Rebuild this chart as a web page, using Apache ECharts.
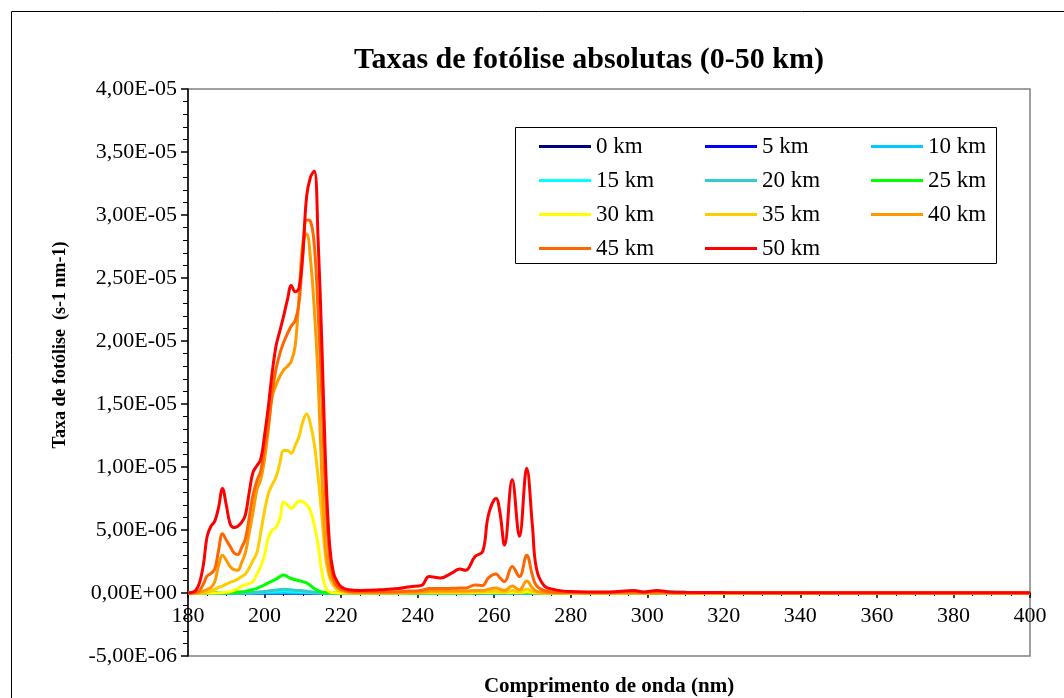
<!DOCTYPE html>
<html>
<head>
<meta charset="utf-8">
<script src="https://cdn.jsdelivr.net/npm/echarts@6/dist/echarts.min.js"></script>
<style>
html,body{margin:0;padding:0;background:#fff;}
#chart{width:1064px;height:698px;}
</style>
</head>
<body>
<div id="chart"></div>
<script>
// Wavelength grid (nm)
const wavelengths = [
  180,181,182,183,184,185,186,187,188,189,
  190,191,192,193,194,195,196,197,198,199,
  200,201,202,203,204,205,206,207,208,209,
  210,211,212,213,214,215,216,217,218,219,
  220,
  222,225,230,235,238,241,243,246,249,251,
  252.5,255,257,258.5,260.5,261.5,262.7,264.7,266.6,268.5,
  270,271,273,276,280,290,296.5,299,302.5,306,310,320,340,360,380,400
];
// Photolysis rates in units of 1E-06 s-1 nm-1
const km0 = [
  0,0,0,0,0,0,0,0,0,0,
  0,0,0,0,0,0,0,0,0,0,
  0,0,0,0,0,0,0,0,0,0,
  0,0,0,0,0,0,0,0,0,0,
  0,
  0,0,0,0,0,0,0,0,0,0,
  0,0,0,0,0,0,0,0,0,0,
  0,0,0,0,0,0,0,0,0,0,0,0,0,0,0,0
];
const km5 = [
  0,0,0,0,0,0,0,0,0,0,
  0,0,0,0,0,0,0,0,0,0,
  0,0,0,0,0,0,0,0,0,0,
  0,0,0,0,0,0,0,0,0,0,
  0,
  0,0,0,0,0,0,0,0,0,0,
  0,0,0,0,0,0,0,0,0,0,
  0,0,0,0,0,0,0,0,0.01,0.01,0,0,0,0,0,0
];
const km10 = [
  0,0,0,0,0,0,0,0,0,0,
  0,0,0,0,0,0,0,0,0,0,
  0.01,0.01,0.02,0.02,0.02,0.03,0.03,0.02,0.02,0.02,
  0.01,0.01,0.01,0,0,0,0,0,0,0,
  0,
  0,0,0,0,0,0,0,0,0,0,
  0,0,0,0,0,0,0,0,0,0,
  0,0,0,0,0,0.01,0.04,0.05,0.09,0.08,0.05,0.02,0.01,0,0,0
];
const km15 = [
  0,0,0,0,0,0,0,0,0,0,
  0,0,0,0,0,0,0,0.01,0.03,0.05,
  0.07,0.1,0.12,0.14,0.16,0.17,0.16,0.14,0.12,0.1,
  0.08,0.06,0.04,0.02,0.01,0,0,0,0,0,
  0,
  0,0,0,0,0,0,0,0,0,0,
  0,0,0,0,0,0,0,0,0,0,
  0,0,0,0,0,0.01,0.04,0.05,0.08,0.07,0.04,0.01,0,0,0,0
];
const km20 = [
  0,0,0,0,0,0,0,0,0,0,
  0,0,0,0,0,0,0.02,0.04,0.06,0.09,
  0.12,0.16,0.2,0.24,0.27,0.3,0.28,0.25,0.22,0.2,
  0.18,0.14,0.1,0.06,0.03,0.01,0,0,0,0,
  0,
  0,0,0,0,0,0,0,0,0,0,
  0,0,0,0,0,0,0,0,0,0,
  0,0,0,0,0,0.01,0.03,0.03,0.05,0.04,0.02,0.01,0,0,0,0
];
const km25 = [
  0,0,0,0,0,0,0,0,0,0,
  0,0.02,0.05,0.07,0.1,0.13,0.2,0.28,0.37,0.5,
  0.65,0.8,0.95,1.1,1.3,1.43,1.3,1.15,1.05,0.98,
  0.9,0.8,0.6,0.35,0.18,0.07,0.02,0,0,0,
  0,
  0,0,0,0,0,0,0,0,0,0,
  0,0.01,0.01,0.02,0.03,0.02,0.01,0.03,0.01,0.04,
  0.02,0,0,0,0,0,0.02,0.01,0.02,0.01,0,0,0,0,0,0
];
const km30 = [
  0,0,0,0,0,0,0,0,0.02,0.03,
  0.05,0.1,0.2,0.35,0.55,0.65,0.75,0.9,1.5,2.1,
  3.0,4.4,5.0,5.2,5.9,7.2,7.0,6.7,7.0,7.3,
  7.25,7.0,6.5,5.4,3.8,1.6,0.4,0.08,0.03,0.01,
  0,
  0,0,0,0,0.01,0.01,0.02,0.02,0.02,0.02,
  0.02,0.03,0.03,0.04,0.06,0.04,0.03,0.06,0.03,0.1,
  0.04,0.01,0,0,0,0,0.01,0,0.01,0,0,0,0,0,0,0
];
const km35 = [
  0,0,0,0,0.02,0.05,0.15,0.3,0.45,0.55,
  0.7,0.85,0.95,1.1,1.3,1.5,2.0,2.6,3.2,4.8,
  6.5,7.9,8.6,9.2,10.3,11.3,11.3,11.1,11.7,12.4,
  13.6,14.2,13.4,11.8,9.2,6.0,2.7,1.2,0.6,0.25,
  0.12,
  0.04,0.02,0.02,0.02,0.02,0.03,0.05,0.05,0.05,0.06,
  0.06,0.08,0.08,0.12,0.16,0.1,0.06,0.2,0.08,0.3,
  0.12,0.04,0.01,0,0,0,0.01,0,0.01,0,0,0,0,0,0,0
];
const km40 = [
  0,0,0,0.05,0.15,0.28,0.45,0.9,2.2,3.0,
  2.6,2.1,1.85,1.8,2.4,3.2,4.8,6.4,8.2,9.0,
  10.6,13.0,15.6,16.5,17.2,17.7,18.0,18.4,19.6,23.5,
  27.8,28.5,26.5,22.5,17.0,9.0,3.4,1.5,0.9,0.45,
  0.25,
  0.08,0.05,0.05,0.05,0.06,0.08,0.15,0.15,0.15,0.15,
  0.15,0.2,0.2,0.3,0.4,0.3,0.2,0.55,0.25,0.95,
  0.4,0.15,0.05,0.02,0.01,0.01,0.03,0.01,0.03,0.01,0,0,0,0,0,0
];
const km45 = [
  0,0,0.05,0.2,0.7,1.35,1.55,1.9,3.4,4.7,
  4.2,3.7,3.2,3.05,3.6,4.3,6.0,7.8,8.9,9.7,
  11.5,13.3,15.9,17.8,19.0,19.9,20.6,21.2,21.6,23.0,
  26.8,29.6,29.5,27.6,22.3,15.5,7.5,2.8,1.1,0.5,
  0.3,
  0.12,0.08,0.08,0.1,0.15,0.2,0.35,0.35,0.37,0.4,
  0.4,0.63,0.6,1.2,1.5,1.2,0.9,2.1,1.3,3.0,
  1.4,0.6,0.2,0.05,0.03,0.02,0.08,0.03,0.08,0.03,0.02,0.01,0.01,0,0,0
];
const km50 = [
  0,0.05,0.2,0.8,2.2,4.5,5.3,5.7,6.8,8.3,
  7.0,5.5,5.2,5.3,5.6,6.2,8.0,9.6,10.1,10.6,
  12.5,14.8,17.5,19.6,20.8,22.0,23.3,24.4,23.9,24.2,
  27.0,31.5,33.0,33.5,28.0,19.5,9.8,3.8,1.6,0.9,
  0.5,
  0.25,0.2,0.25,0.35,0.5,0.6,1.3,1.2,1.6,1.9,
  1.8,2.9,3.3,6.2,7.5,6.4,3.8,9.0,4.5,9.9,
  5.3,2.0,0.6,0.25,0.12,0.08,0.2,0.08,0.2,0.08,0.05,0.03,0.02,0.01,0.01,0.01
];

const seriesNames = ['0 km','5 km','10 km','15 km','20 km','25 km','30 km','35 km','40 km','45 km','50 km'];
const seriesValues = [km0,km5,km10,km15,km20,km25,km30,km35,km40,km45,km50];
const seriesColors = ['#000080','#0000FF','#00CCFF','#00FFFF','#33CCCC','#00FF00','#FFFF00','#FFCC00','#FF9900','#FF6600','#FF0000'];
const xTicks = {min:180, max:400, interval:20};
const yTicks = {min:-5, max:40, interval:5}; // in 1E-06 units

const SERIF = '"Liberation Serif","Times New Roman",serif';

function sciLabel(v){
  const x = v * 1e-6;
  if (Math.abs(x) < 1e-15) return '0,00E+00';
  const parts = x.toExponential(2).split('e');
  const sign = parts[1][0] === '-' ? '-' : '+';
  let d = parts[1].replace(/[+-]/,'');
  if (d.length < 2) d = '0' + d;
  return parts[0].replace('.', ',') + 'E' + sign + d;
}

const chart = echarts.init(document.getElementById('chart'), null, {renderer:'canvas'});

const series = seriesNames.map((name, i) => ({
  name: name,
  type: 'line',
  xAxisIndex: 0,
  yAxisIndex: 0,
  data: wavelengths.map((w, j) => [w, seriesValues[i][j]]),
  smooth: 0.4,
  symbol: 'none',
  lineStyle: {color: seriesColors[i], width: 3},
  itemStyle: {color: seriesColors[i]},
  z: 2 + i
}));

const legendCols = [
  ['0 km','15 km','30 km','45 km'],
  ['5 km','20 km','35 km','50 km'],
  ['10 km','25 km','40 km']
];
const legendLefts = [539, 705, 871];
const legends = legendCols.map((col, k) => ({
  data: col,
  orient: 'vertical',
  left: legendLefts[k],
  top: 135,
  padding: 0,
  itemGap: 11,
  itemWidth: 52,
  itemHeight: 3,
  icon: 'rect',
  selectedMode: false,
  z: 20,
  textStyle: {fontFamily: SERIF, fontSize: 23, color: '#000', lineHeight: 23, padding: [0,0,0,0]}
}));

chart.setOption({
  animation: false,
  backgroundColor: '#fff',
  title: {
    text: 'Taxas de fotólise absolutas (0-50 km)',
    left: 584, top: 40, textAlign: 'center',
    textStyle: {fontFamily: SERIF, fontSize: 30, fontWeight: 'bold', color: '#000'}
  },
  legend: legends,
  grid: [
    {left: 188, top: 89, width: 842, height: 567,
     show: true, borderColor: '#808080', borderWidth: 1.5, backgroundColor: 'transparent'},
    {left: 188, top: 89, width: 842, height: 504, show: false}
  ],
  xAxis: [
    {type: 'value', gridIndex: 0, min: xTicks.min, max: xTicks.max, interval: xTicks.interval,
     show: false},
    {type: 'value', gridIndex: 1, min: xTicks.min, max: xTicks.max, interval: xTicks.interval,
     axisLine: {onZero: false, lineStyle: {color: '#000', width: 1.5}},
     axisTick: {show: true, inside: false, length: 5, lineStyle: {color: '#000', width: 1.5}},
     minorTick: {show: true, splitNumber: 4, length: 3, lineStyle: {color: '#000', width: 1}},
     axisLabel: {fontFamily: SERIF, fontSize: 22, color: '#000', margin: 12},
     splitLine: {show: false}}
  ],
  yAxis: [
    {type: 'value', gridIndex: 0, min: yTicks.min, max: yTicks.max, interval: yTicks.interval,
     axisLine: {show: true, onZero: false, lineStyle: {color: '#000', width: 1.5}},
     axisTick: {show: true, inside: false, length: 7, lineStyle: {color: '#000', width: 1.5}},
     minorTick: {show: true, splitNumber: 5, length: 5, lineStyle: {color: '#000', width: 1}},
     axisLabel: {fontFamily: SERIF, fontSize: 22, color: '#000', margin: 11, formatter: sciLabel},
     splitLine: {show: false}},
    {type: 'value', gridIndex: 1, min: 0, max: yTicks.max, interval: yTicks.interval, show: false}
  ],
  graphic: [
    {type: 'rect', z: -10, silent: true,
     shape: {x: 11.5, y: 11.5, width: 1100, height: 800},
     style: {fill: 'none', stroke: '#000', lineWidth: 1}},
    {type: 'rect', z: 15, silent: true,
     shape: {x: 515.5, y: 127.5, width: 481, height: 136},
     style: {fill: '#fff', stroke: '#000', lineWidth: 1}},
    {type: 'text', x: 609, y: 687, silent: true,
     style: {text: 'Comprimento de onda (nm)', fontFamily: SERIF, fontSize: 21, fontWeight: 'bold', fill: '#000', textAlign: 'center', textVerticalAlign: 'middle'}},
    {type: 'text', x: 60, y: 345, rotation: Math.PI/2, silent: true,
     style: {text: 'Taxa de fotólise  (s-1 nm-1)', fontFamily: SERIF, fontSize: 18, fontWeight: 'bold', fill: '#000', textAlign: 'center', textVerticalAlign: 'middle'}}
  ],
  series: series
});
</script>
</body>
</html>
